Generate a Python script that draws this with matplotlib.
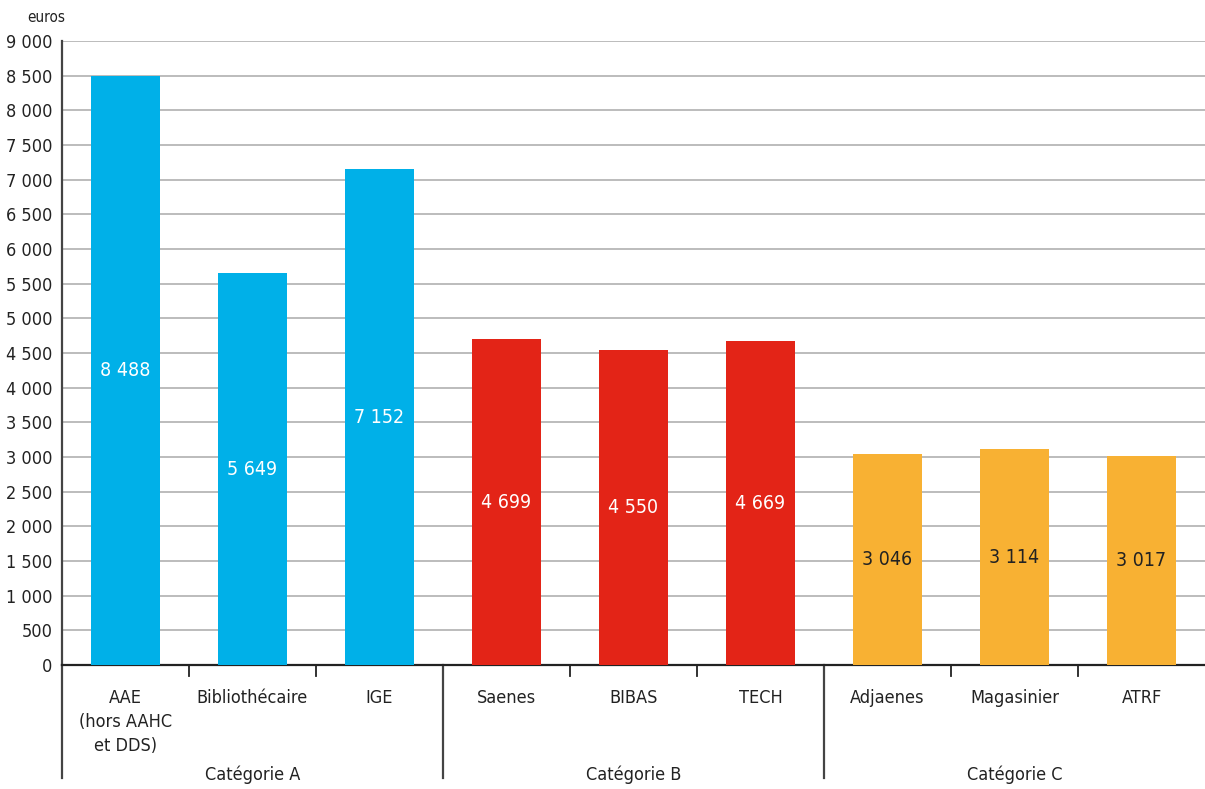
import numpy as np
import matplotlib.pyplot as plt
import matplotlib.transforms as mtransforms
from matplotlib import font_manager

names = ['AAE\n(hors AAHC\net DDS)', 'Bibliothécaire', 'IGE',
         'Saenes', 'BIBAS', 'TECH',
         'Adjaenes', 'Magasinier', 'ATRF']
values = [8488, 5649, 7152, 4699, 4550, 4669, 3046, 3114, 3017]
groups = ['Catégorie A', 'Catégorie B', 'Catégorie C']
group_size = [3, 3, 3]
group_colors = ['#00b0e8', '#e32417', '#f8b133']
label_colors = ['white', 'white', '#222222']

installed = {f.name for f in font_manager.fontManager.ttflist}
fam = [f for f in ['Liberation Sans Narrow', 'DejaVu Sans'] if f in installed]
plt.rcParams['font.family'] = fam
if fam[0] == 'DejaVu Sans':
    plt.rcParams['font.stretch'] = 'condensed'

fig = plt.figure(figsize=(12.05, 7.89), dpi=100)
ax = fig.add_axes([62/1205, (789-665)/789, 1 - 62/1205, 624/789])

colors = []
lcols = []
for g, n in enumerate(group_size):
    colors += [group_colors[g]] * n
    lcols += [label_colors[g]] * n

x = np.arange(len(values))
ax.bar(x, values, width=0.545, color=colors, zorder=3)
for xi, v, lc in zip(x, values, lcols):
    ax.text(xi, v / 2, f"{v:,}".replace(",", " "), ha='center', va='center',
            color=lc, fontsize=14, zorder=4)

ax.set_xlim(-0.5, len(values) - 0.5)
ax.set_ylim(0, 9000)
yt = np.arange(0, 9001, 500)
ax.set_yticks(yt)
ax.set_yticklabels([f"{v:,}".replace(",", " ") for v in yt], fontsize=13, color='#222222')
ax.tick_params(axis='y', length=0, pad=7)
ax.grid(axis='y', color='#bcbcbc', linewidth=1.4, zorder=0)

ax.set_xticks(x)
ax.set_xticklabels(names, fontsize=13, color='#222222', linespacing=1.45, va='top')
ax.tick_params(axis='x', length=0, pad=17)

for s in ['top', 'right']:
    ax.spines[s].set_visible(False)
ax.spines['bottom'].set_color('#222222')
ax.spines['bottom'].set_linewidth(1.6)
ax.spines['left'].set_color('#444444')
ax.spines['left'].set_linewidth(1.6)
ax.spines['left'].set_bounds(0, 9000)

trans = mtransforms.blended_transform_factory(ax.transData, ax.transAxes)
low = -(778 - 665) / 624
ax.plot([-0.5, -0.5], [0, low], transform=trans, color='#444444', lw=1.6, clip_on=False)
start = 0
for g, n in enumerate(group_size):
    end = start + n
    for b in range(start, end - 1):
        ax.plot([b + 0.5, b + 0.5], [0, -11/624], transform=trans,
                color='#222222', lw=1.3, clip_on=False)
    if end < len(values):
        ax.plot([end - 0.5, end - 0.5], [0, low], transform=trans,
                color='#444444', lw=1.6, clip_on=False)
    ax.text((start + end - 1) / 2, -(775 - 665) / 624, groups[g], transform=trans,
            ha='center', va='center', fontsize=13, color='#222222')
    start = end

fig.text(27/1205, 1 - 18/789, 'euros', ha='left', va='center', fontsize=11, color='#222222')

fig.savefig('out.png', dpi=100, facecolor='white')
